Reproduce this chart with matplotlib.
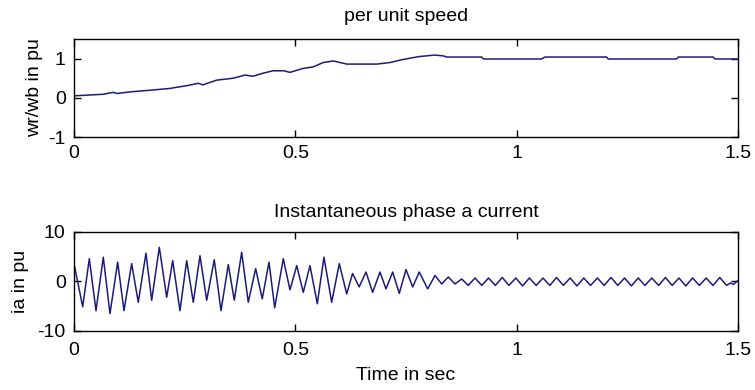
import matplotlib
matplotlib.use("Agg")
import matplotlib.pyplot as plt

plt.rcParams['font.family'] = ['Liberation Sans', 'DejaVu Sans']

# per unit speed
speed_t = [0.0, 0.066, 0.089, 0.097, 0.126, 0.179, 0.217, 0.255, 0.281, 0.291,
           0.322, 0.360, 0.386, 0.404, 0.428, 0.450, 0.473, 0.488, 0.518, 0.541,
           0.563, 0.586, 0.616, 0.684, 0.714, 0.740, 0.778, 0.815, 0.834, 0.842,
           0.921, 0.925, 1.056, 1.064, 1.203, 1.207, 1.361, 1.365, 1.444, 1.448, 1.5]
speed_pu = [0.05, 0.09, 0.14, 0.11, 0.15, 0.20, 0.24, 0.31, 0.37, 0.33,
            0.45, 0.50, 0.58, 0.55, 0.63, 0.69, 0.69, 0.65, 0.75, 0.79,
            0.90, 0.94, 0.86, 0.86, 0.90, 0.97, 1.05, 1.09, 1.07, 1.04,
            1.04, 0.99, 0.99, 1.04, 1.04, 0.99, 0.99, 1.04, 1.04, 0.99, 0.99]

# phase a current: peaks and troughs
ia_t = [0.0, 0.0197, 0.0346, 0.0497, 0.0662, 0.0813, 0.0987, 0.1129, 0.1303, 0.1452,
        0.1626, 0.1755, 0.1927, 0.2094, 0.2230, 0.2394, 0.2546, 0.2695, 0.2846, 0.2998,
        0.3169, 0.3321, 0.3486, 0.3621, 0.3788, 0.3937, 0.4104, 0.4253, 0.4405, 0.4534,
        0.4728, 0.4879, 0.5031, 0.5180, 0.5331, 0.5496, 0.5647, 0.5821, 0.5993, 0.6160,
        0.6293, 0.6443, 0.6596, 0.6747, 0.6912, 0.7048, 0.7199, 0.7348, 0.7500, 0.7651,
        0.7800, 0.7990, 0.8155, 0.8306, 0.8455, 0.8606, 0.8758, 0.8907, 0.9058, 0.9212,
        0.9365, 0.9519, 0.9673, 0.9826, 0.9980, 1.0133, 1.0287, 1.0441, 1.0594, 1.0748,
        1.0901, 1.1055, 1.1208, 1.1362, 1.1516, 1.1669, 1.1823, 1.1977, 1.2130, 1.2284,
        1.2437, 1.2591, 1.2745, 1.2898, 1.3052, 1.3206, 1.3359, 1.3513, 1.3666, 1.3820,
        1.3973, 1.4127, 1.4281, 1.4434, 1.4588, 1.4742, 1.4830, 1.4895, 1.5]
ia_pu = [3.6, -5.1, 4.6, -5.9, 4.9, -6.5, 3.9, -5.9, 3.6, -4.2,
         5.7, -3.8, 6.9, -3.2, 4.2, -5.9, 4.2, -4.2, 5.2, -3.8,
         4.4, -5.9, 3.4, -3.8, 5.9, -4.2, 2.6, -3.5, 3.9, -5.3,
         4.6, -1.7, 3.2, -2.2, 3.2, -4.5, 4.9, -4.2, 3.6, -2.5,
         1.6, -1.1, 1.9, -2.2, 1.9, -1.5, 1.9, -2.4, 2.4, -1.1,
         1.9, -1.5, 1.2, -0.5, 0.9, -0.5, 0.5, -0.8, 0.7, -0.8,
         0.7, -0.8, 0.8, -0.8, 0.7, -0.9, 0.7, -0.8, 0.7, -0.8,
         0.8, -0.8, 0.7, -0.9, 0.7, -0.8, 0.7, -0.8, 0.8, -0.8,
         0.7, -0.9, 0.7, -0.8, 0.7, -0.8, 0.8, -0.8, 0.7, -0.9,
         0.7, -0.8, 0.7, -0.8, 0.8, -0.8, -0.3, -0.6, 0.2]

line_col = '#1c1c78'
xticks = [0, 0.5, 1, 1.5]
xticklabels = ['0', '0.5', '1', '1.5']

fig = plt.figure(figsize=(7.55, 3.9), dpi=100)
ax1 = fig.add_axes([0.098, 0.6487, 0.8795, 0.2513])
ax2 = fig.add_axes([0.098, 0.1513, 0.8795, 0.254])

ax1.plot(speed_t, speed_pu, color=line_col, linewidth=1.1)
ax1.set_xlim(0, 1.5)
ax1.set_ylim(-1, 1.5)
ax1.set_yticks([-1, 0, 1])
ax1.set_yticklabels(['-1', '0', '1'])
ax1.set_title('per unit speed', fontsize=14, pad=13)
ax1.set_ylabel('wr/wb in pu', fontsize=14, labelpad=4)

ax2.plot(ia_t, ia_pu, color=line_col, linewidth=1.1)
ax2.set_xlim(0, 1.5)
ax2.set_ylim(-10, 10)
ax2.set_yticks([-10, 0, 10])
ax2.set_yticklabels(['-10', '0', '10'])
ax2.set_title('Instantaneous phase a current', fontsize=14, pad=11)
ax2.set_ylabel('ia in pu', fontsize=14, labelpad=6)
ax2.set_xlabel('Time in sec', fontsize=14, labelpad=6)

for ax in (ax1, ax2):
    ax.set_xticks(xticks)
    ax.set_xticklabels(xticklabels)
    ax.tick_params(direction='in', length=5, width=1, top=True, right=True,
                   labelsize=14)
    ax.tick_params(axis='y', pad=6)
    for s in ax.spines.values():
        s.set_linewidth(1.0)

ax1.tick_params(axis='x', pad=6)
ax2.tick_params(axis='x', pad=8)

fig.savefig('out.png', dpi=100)
